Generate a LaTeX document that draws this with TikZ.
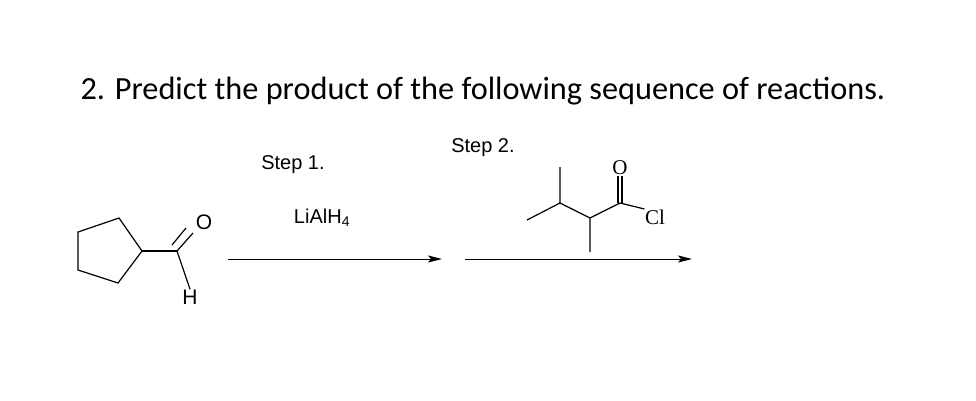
\documentclass[tikz,border=0pt]{standalone}
\usepackage{fontspec}
\usetikzlibrary{arrows.meta}
\setmainfont{Liberation Sans}
\newfontfamily\titlefont{Carlito}
\newfontfamily\serifatom{Liberation Serif}
\begin{document}
\begin{tikzpicture}[x=1pt, y=-1pt, line width=1.2pt,
    atom/.style={font=\fontsize{21}{23}\selectfont, inner sep=0pt},
    satom/.style={font=\serifatom\fontsize{21}{23}\selectfont, inner sep=0pt},
    label/.style={font=\fontsize{20}{22}\selectfont, inner sep=0pt},
    rarrow/.style={-{Stealth[length=14pt,width=7pt,inset=3pt]}, line width=1pt}]
  \useasboundingbox (0,0) rectangle (976,400);
  \node[anchor=base west, inner sep=0pt, font=\titlefont\fontsize{32.3}{34}\selectfont] (title) at (80,99)
    {2. Predict the product of the following sequence of reactions.};

  % cyclopentane carbaldehyde
  \coordinate (r1) at (78,232);
  \coordinate (r2) at (119,218);
  \coordinate (r3) at (142,251);
  \coordinate (r4) at (118,283);
  \coordinate (r5) at (78,270);
  \draw (r1) -- (r2) -- (r3) -- (r4) -- (r5) -- cycle;
  \coordinate (c1) at (177,251);
  \node[atom] (o1) at (204,222) {O};
  \node[atom] (h1) at (190,297) {H};
  \draw (r3) -- (c1);
  \coordinate (ob1) at (193,233);
  \coordinate (ob2) at (186,228);
  \coordinate (cb2) at (172,245);
  \draw (c1) -- (ob1);
  \draw (cb2) -- (ob2);
  \draw (c1) -- (h1.north);

  % step labels
  \node[label] (s1) at (293,165) {Step 1.};
  \node[label] (lah) at (322,218) {LiAlH\textsubscript{4}};
  \node[label] (s2) at (483,148) {Step 2.};

  % arrows
  \coordinate (a1s) at (228,259);
  \coordinate (a1e) at (442,259);
  \coordinate (a2s) at (465,259);
  \coordinate (a2e) at (692,259);
  \draw[rarrow] (a1s) -- (a1e);
  \draw[rarrow] (a2s) -- (a2e);

  % 2,3-dimethylbutanoyl chloride
  \coordinate (m1) at (560,167);
  \coordinate (b1) at (560,203);
  \coordinate (m2) at (527,220);
  \coordinate (b2) at (590,218);
  \coordinate (m3) at (590,252);
  \coordinate (cc) at (620,203);
  \node[satom] (o2) at (620,168) {O};
  \node[satom] (cl) at (655,217) {Cl};
  \draw (m1) -- (b1) -- (m2);
  \draw (b1) -- (b2) -- (m3);
  \draw (b2) -- (cc) -- (cl.north west);
  \draw ([xshift=-2pt]cc) -- ([xshift=-2pt]o2.south);
  \draw ([xshift=2pt]cc) -- ([xshift=2pt]o2.south);
\end{tikzpicture}
\end{document}
